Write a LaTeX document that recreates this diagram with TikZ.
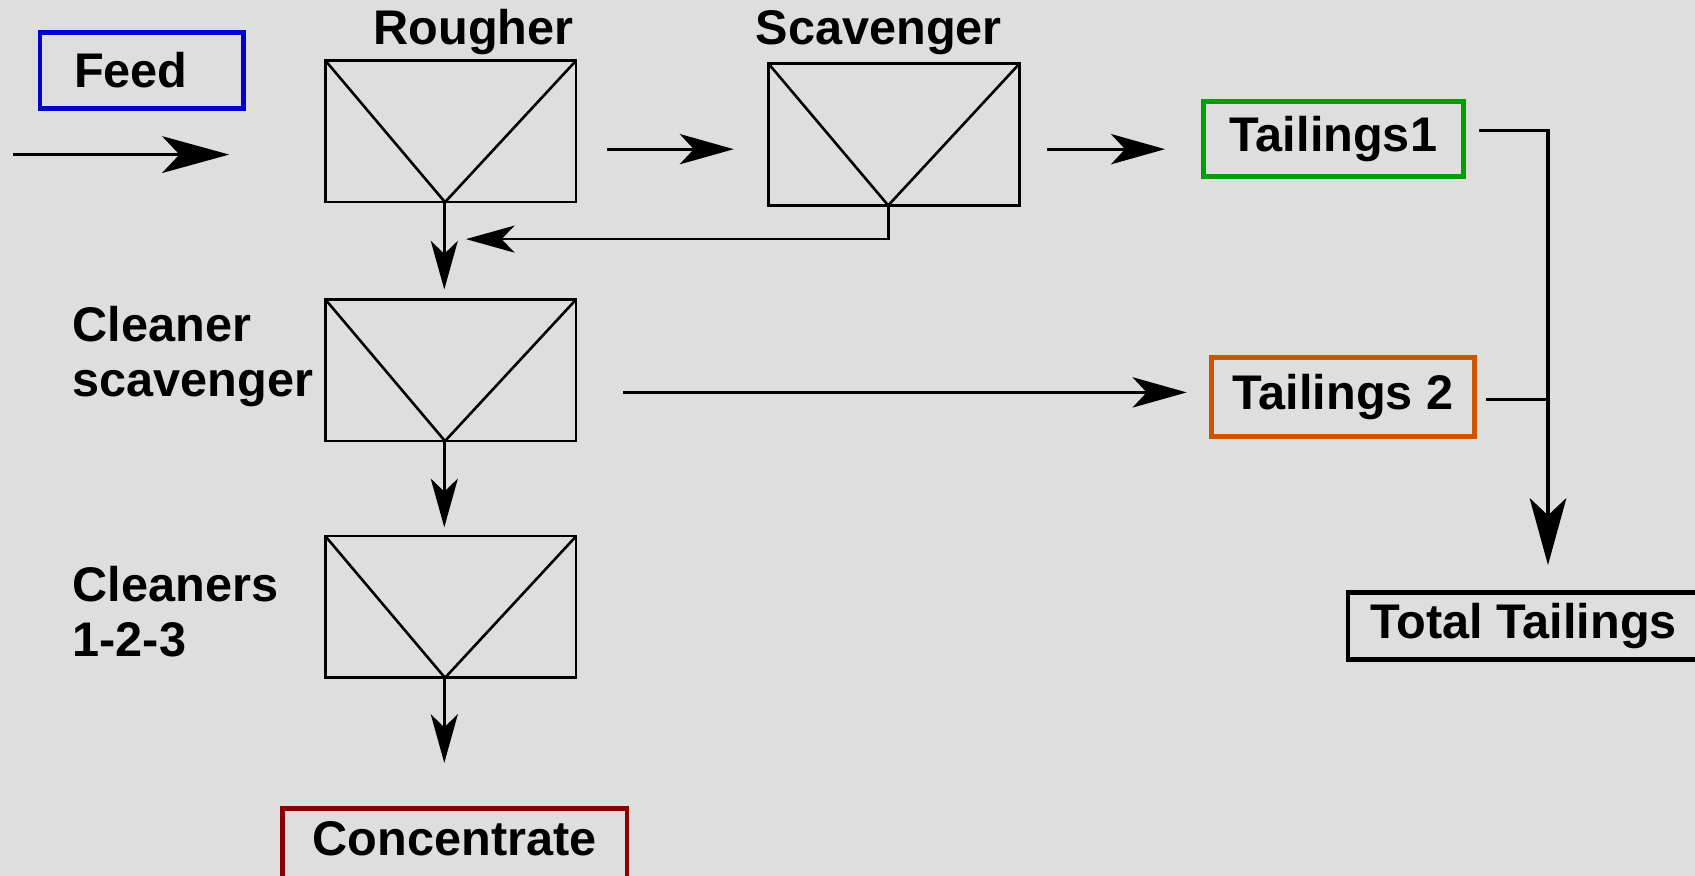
\documentclass[tikz,border=0pt]{standalone}
\usepackage{fontspec}
\setmainfont{Liberation Sans}
\usetikzlibrary{arrows.meta,calc}
\definecolor{bg}{HTML}{DEDEDE}
\definecolor{feedblue}{HTML}{0000D0}
\definecolor{tgreen}{HTML}{00A000}
\definecolor{torange}{HTML}{CC5500}
\definecolor{cred}{HTML}{8B0000}
\begin{document}
\begin{tikzpicture}[x=1pt,y=-1pt,
  cell/.style={draw, line width=2.4pt, minimum width=232pt, minimum height=131pt, inner sep=0pt,
    path picture={\draw[line width=2.4pt] (path picture bounding box.north west) --
      ($(path picture bounding box.south west)!0.477!(path picture bounding box.south east)$) --
      (path picture bounding box.north east);}},
  lbl/.style={font=\fontsize{45}{51}\selectfont\bfseries, inner sep=0pt},
  tbox/.style={draw, line width=4.5pt, inner sep=0pt, font=\fontsize{45}{51}\selectfont\bfseries},
  bigarr/.style={line width=3pt, -{Stealth[length=62pt, width=34pt, inset=16pt]}},
  midarr/.style={line width=2.8pt, -{Stealth[length=50pt, width=28pt, inset=13pt]}},
  smallarr/.style={line width=2.4pt, -{Stealth[length=45pt, width=25pt, inset=12pt]}}
]
\fill[bg] (0,0) rectangle (1568,810);
\useasboundingbox (0,0) rectangle (1568,810);

\node[tbox, draw=feedblue, minimum width=188pt, minimum height=70pt] (feed) at (131,65) {Feed\hspace*{20pt}};
\node[cell] (rougher) at (417,121.5) {};
\node[lbl] (lrough) at (438,30) {Rougher};
\node[cell] (scav) at (827,124.5) {};
\node[lbl] (lscav) at (813,30) {Scavenger};
\node[tbox, draw=tgreen, minimum width=241pt, minimum height=69pt] (t1) at (1233.5,128.5) {Tailings1};
\node[cell] (clsc) at (417,342.5) {};
\node[lbl, align=left, anchor=west] (lclsc) at (67,330) {Cleaner\\scavenger};
\node[tbox, draw=torange, minimum width=243pt, minimum height=73pt] (t2) at (1242.5,367.5) {Tailings 2};
\node[cell] (clean) at (417,561.5) {};
\node[lbl, align=left, anchor=west] (lclean) at (67,566) {Cleaners\\1-2-3};
\node[tbox, draw=black, minimum width=325pt, minimum height=62pt] (total) at (1409.5,579) {Total Tailings};
\node[tbox, draw=cred, minimum width=319pt, minimum height=72pt, text depth=16pt] (conc) at (420.5,784) {Concentrate};

\coordinate (fstart) at (12,143);
\coordinate (ftip) at (212,143);
\coordinate (j2) at (1432,370);

\draw[bigarr] (fstart) -- (ftip);
\draw[midarr] ([xshift=27pt,yshift=-16.5pt]rougher.east) -- ([xshift=-31pt,yshift=-13.5pt]scav.west);
\draw[midarr] ([xshift=24pt,yshift=-13.5pt]scav.east) -- ([xshift=-33pt,yshift=-9.5pt]t1.west);
\draw[bigarr, line width=2.8pt] ([xshift=12pt,yshift=7.5pt]t1.east) -| ([xshift=22.5pt,yshift=23pt]total.north);
\draw[line width=2.8pt] ([xshift=8pt,yshift=-2.5pt]t2.east) -- (j2);
\draw[smallarr] ([xshift=-5pt]scav.south) |- ([xshift=14pt,yshift=-33pt]rougher.south);
\draw[smallarr] ([xshift=-6pt]rougher.south) -- ([xshift=-6pt,yshift=8pt]clsc.north);
\draw[midarr] ([xshift=42pt,yshift=-20.5pt]clsc.east) -- ([xshift=-21pt,yshift=4.5pt]t2.west);
\draw[smallarr] ([xshift=-6pt]clsc.south) -- ([xshift=-6pt,yshift=7pt]clean.north);
\draw[smallarr] ([xshift=-6pt]clean.south) -- ([xshift=-9.5pt,yshift=40pt]conc.north);
\end{tikzpicture}
\end{document}
